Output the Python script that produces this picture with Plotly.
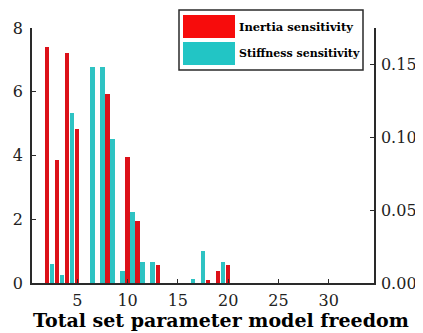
import plotly.graph_objects as go

# Data
inertia_dof = [2, 3, 4, 5, 8, 10, 11, 13, 18, 19, 20]
inertia_sens = [7.40, 3.85, 7.22, 4.84, 5.93, 3.96, 1.96, 0.57, 0.10, 0.38, 0.57]

stiffness_dof = [2, 3, 4, 6, 7, 8, 9, 10, 11, 12, 16, 17, 19]
stiffness_sens = [0.0131, 0.0058, 0.1168, 0.1484, 0.1484, 0.0989, 0.0085,
                  0.0486, 0.0142, 0.0142, 0.0025, 0.0220, 0.0145]

x_ticks = [5, 10, 15, 20, 25, 30]
left_ticks = [0, 2, 4, 6, 8]
right_ticks = [0.00, 0.05, 0.10, 0.15]

legend_labels = ["Inertia sensitivity", "Stiffness sensitivity"]
x_title = "Total set parameter model freedom"

RED = "#dc1119"
CYAN = "#2ec3c3"
LEG_RED = "#f70c0c"
LEG_CYAN = "#22c5c5"
AXIS = "#2a2a2a"
FONT = "DejaVu Serif"

fig = go.Figure()
fig.add_trace(go.Bar(x=inertia_dof, y=inertia_sens, name=legend_labels[0],
                     marker=dict(color=RED, line=dict(width=0)),
                     width=0.44, offset=-0.22, yaxis="y"))
fig.add_trace(go.Bar(x=stiffness_dof, y=stiffness_sens, name=legend_labels[1],
                     marker=dict(color=CYAN, line=dict(width=0)),
                     width=0.44, offset=0.28, yaxis="y2"))

# page offset of the plot div (default body margin)
OFF = 8
W, H = 423 - OFF, 333 - OFF
L, T = 32 - OFF, 28 - OFF
R = W - (374 - OFF)
B = H - (283 - OFF)
pw, ph = W - L - R, H - T - B


def px(xp):
    return (xp - OFF - L) / pw


def py(yp):
    return (H - B - (yp - OFF)) / ph


shapes = [
    dict(type="rect", xref="paper", yref="paper", x0=px(179), x1=px(363),
         y0=py(70), y1=py(10), line=dict(color=AXIS, width=1.5), fillcolor="white"),
    dict(type="rect", xref="paper", yref="paper", x0=px(183), x1=px(235),
         y0=py(38), y1=py(15), line=dict(width=0), fillcolor=LEG_RED),
    dict(type="rect", xref="paper", yref="paper", x0=px(183), x1=px(235),
         y0=py(65), y1=py(42), line=dict(width=0), fillcolor=LEG_CYAN),
]
annotations = [
    dict(text="<b>%s</b>" % legend_labels[0], xref="paper", yref="paper",
         x=px(237), y=py(26.5), xanchor="left", yanchor="middle", showarrow=False,
         font=dict(family=FONT, size=11.5, color="black")),
    dict(text="<b>%s</b>" % legend_labels[1], xref="paper", yref="paper",
         x=px(237), y=py(53.5), xanchor="left", yanchor="middle", showarrow=False,
         font=dict(family=FONT, size=11, color="black")),
    dict(text="<b>%s</b>" % x_title, xref="paper", yref="paper",
         x=px(221), y=py(320), xanchor="center", yanchor="middle", showarrow=False,
         font=dict(family=FONT, size=19, color="black")),
]

fig.update_layout(
    width=W, height=H,
    margin=dict(l=L, r=R, t=T, b=B, pad=0, autoexpand=False),
    paper_bgcolor="white", plot_bgcolor="white",
    showlegend=False,
    bargap=0,
    font=dict(family=FONT, size=16, color="#222"),
    xaxis=dict(range=[0.5, 34.5], tickvals=x_ticks, ticks="inside", ticklen=4,
               tickcolor=AXIS, showline=True, linecolor=AXIS, linewidth=1.5,
               showgrid=False, zeroline=False, automargin=False,
               ticklabelstandoff=2),
    yaxis=dict(range=[0, 8], tickvals=left_ticks, ticks="inside", ticklen=4,
               tickcolor=AXIS, showline=True, linecolor=AXIS, linewidth=1.5,
               showgrid=False, zeroline=False, automargin=False,
               ticklabelstandoff=4),
    yaxis2=dict(range=[0, 0.1748], tickvals=right_ticks, tickformat=".2f",
                overlaying="y", side="right", ticks="inside", ticklen=4,
                tickcolor=AXIS, showline=True, linecolor=AXIS, linewidth=1.5,
                showgrid=False, zeroline=False, automargin=False,
                ticklabelstandoff=2),
    shapes=shapes,
    annotations=annotations,
)

fig.write_html("out.html")
